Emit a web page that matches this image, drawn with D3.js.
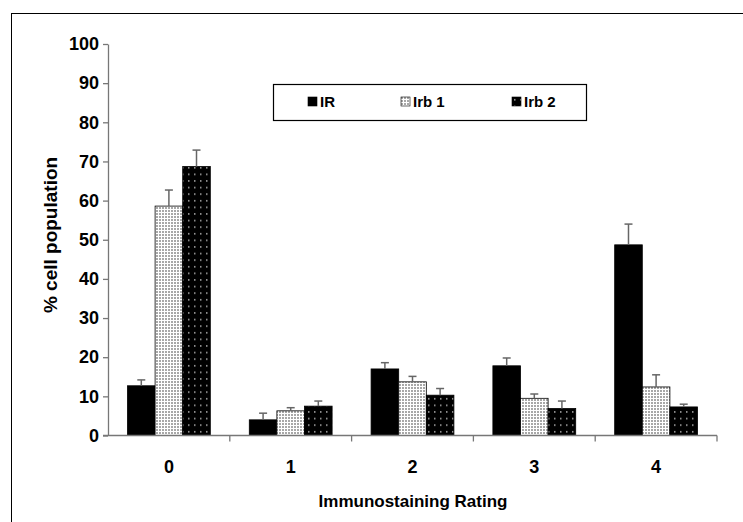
<!DOCTYPE html>
<html>
<head>
<meta charset="utf-8">
<script src="https://cdn.jsdelivr.net/npm/d3@7"></script>
<style>
  body { margin: 0; background: #fff; }
  svg { display: block; font-family: "Liberation Sans", Arial, sans-serif; font-weight: bold; }
</style>
</head>
<body>
<div id="chart"></div>
<script>
// data
const ratings = ['0', '1', '2', '3', '4'];
const seriesNames = ['IR', 'Irb 1', 'Irb 2'];
const irValues = [12.7, 4.0, 17.0, 17.8, 48.7];
const irErrors = [1.5, 1.7, 1.6, 2.0, 5.3];
const irb1Values = [58.6, 6.3, 13.7, 9.5, 12.4];
const irb1Errors = [4.1, 0.8, 1.4, 1.1, 3.1];
const irb2Values = [68.7, 7.5, 10.3, 6.9, 7.3];
const irb2Errors = [4.2, 1.3, 1.7, 1.9, 0.7];
const yTicks = [0, 10, 20, 30, 40, 50, 60, 70, 80, 90, 100];

const series = [
  {name: seriesNames[0], values: irValues, errors: irErrors, fill: '#000'},
  {name: seriesNames[1], values: irb1Values, errors: irb1Errors, fill: 'url(#dotsLight)'},
  {name: seriesNames[2], values: irb2Values, errors: irb2Errors, fill: 'url(#dotsDark)'}
];

const W = 743, H = 522;
const svg = d3.select('#chart').append('svg')
  .attr('width', W)
  .attr('height', H);

// fill patterns
const defs = svg.append('defs');
const pLight = defs.append('pattern')
  .attr('id', 'dotsLight')
  .attr('patternUnits', 'userSpaceOnUse')
  .attr('width', 3).attr('height', 3);
pLight.append('rect').attr('width', 3).attr('height', 3).attr('fill', '#fff');
pLight.append('rect').attr('width', 2).attr('height', 2).attr('fill', '#a8a8a8');

const pDark = defs.append('pattern')
  .attr('id', 'dotsDark')
  .attr('patternUnits', 'userSpaceOnUse')
  .attr('width', 6).attr('height', 6.6);
pDark.append('rect').attr('width', 6).attr('height', 6.6).attr('fill', '#000');
pDark.append('rect').attr('x', 2).attr('y', 2).attr('width', 1.5).attr('height', 1.5).attr('fill', '#aaa');

// outer frame (runs off the right and bottom of the picture)
svg.append('rect')
  .attr('x', 11.5).attr('y', 13.5)
  .attr('width', 800).attr('height', 600)
  .attr('fill', 'none')
  .attr('stroke', '#000')
  .attr('stroke-width', 1);

const plotLeft = 108, plotRight = 717, plotTop = 44, plotBottom = 435.5;

const x = d3.scaleBand()
  .domain(ratings)
  .range([plotLeft, plotRight])
  .paddingInner(0.32)
  .paddingOuter(0.16);

const x1 = d3.scaleBand()
  .domain(seriesNames)
  .range([0, x.bandwidth()]);

const y = d3.scaleLinear()
  .domain([0, 100])
  .range([plotBottom, plotTop]);

// y axis
const yAxis = svg.append('g')
  .attr('transform', `translate(${plotLeft},0)`)
  .call(d3.axisLeft(y).tickValues(yTicks).tickSize(5).tickSizeOuter(0).tickPadding(4));
yAxis.select('.domain').attr('stroke', '#777').attr('stroke-width', 1.3);
yAxis.selectAll('.tick line').attr('stroke', '#777').attr('stroke-width', 1.3);
yAxis.selectAll('.tick text')
  .attr('font-size', 18)
  .attr('font-weight', 'bold')
  .attr('font-family', '"Liberation Sans", Arial, sans-serif')
  .attr('fill', '#000');

// bars
const groups = svg.append('g').selectAll('g')
  .data(series)
  .join('g');

groups.selectAll('rect')
  .data(s => s.values.map((v, i) => ({s, v, e: s.errors[i], cat: ratings[i]})))
  .join('rect')
  .attr('x', d => x(d.cat) + x1(d.s.name))
  .attr('y', d => y(d.v))
  .attr('width', x1.bandwidth())
  .attr('height', d => y(0) - y(d.v))
  .attr('fill', d => d.s.fill)
  .attr('stroke', '#000')
  .attr('stroke-width', 0.8);

// error bars
const errs = svg.append('g').selectAll('g')
  .data(series.flatMap(s => s.values.map((v, i) => ({s, v, e: s.errors[i], cat: ratings[i]}))))
  .join('g')
  .attr('stroke', '#666')
  .attr('stroke-width', 1.5);
errs.append('line')
  .attr('x1', d => x(d.cat) + x1(d.s.name) + x1.bandwidth() / 2)
  .attr('x2', d => x(d.cat) + x1(d.s.name) + x1.bandwidth() / 2)
  .attr('y1', d => y(d.v))
  .attr('y2', d => y(d.v + d.e));
errs.append('line')
  .attr('x1', d => x(d.cat) + x1(d.s.name) + x1.bandwidth() / 2 - 4)
  .attr('x2', d => x(d.cat) + x1(d.s.name) + x1.bandwidth() / 2 + 4)
  .attr('y1', d => y(d.v + d.e))
  .attr('y2', d => y(d.v + d.e));

// x axis: baseline, boundary ticks, category labels
const xg = svg.append('g');
xg.append('line')
  .attr('x1', plotLeft - 5).attr('x2', plotRight)
  .attr('y1', plotBottom).attr('y2', plotBottom)
  .attr('stroke', '#777').attr('stroke-width', 1.3);
const bounds = ratings.map(c => x(c) - x.step() * x.paddingInner() / 2).concat([plotRight]);
xg.selectAll('line.b')
  .data(bounds.slice(1))
  .join('line')
  .attr('class', 'b')
  .attr('x1', d => d).attr('x2', d => d)
  .attr('y1', plotBottom).attr('y2', plotBottom + 6)
  .attr('stroke', '#777').attr('stroke-width', 1.3);
xg.selectAll('text')
  .data(ratings)
  .join('text')
  .attr('x', d => x(d) + x.bandwidth() / 2)
  .attr('y', 472.5)
  .attr('text-anchor', 'middle')
  .attr('font-size', 18)
  .text(d => d);

// axis titles
svg.append('text')
  .attr('x', 413)
  .attr('y', 507)
  .attr('text-anchor', 'middle')
  .attr('font-size', 17)
  .text('Immunostaining Rating');

svg.append('text')
  .attr('transform', 'translate(57,235) rotate(-90)')
  .attr('text-anchor', 'middle')
  .attr('font-size', 19)
  .text('% cell population');

// legend
const legend = svg.append('g');
legend.append('rect')
  .attr('x', 273.5).attr('y', 84.5)
  .attr('width', 313).attr('height', 36)
  .attr('fill', '#fff')
  .attr('stroke', '#000')
  .attr('stroke-width', 1.2);
const legX = [308, 401, 512];
const items = legend.selectAll('g.item')
  .data(series)
  .join('g')
  .attr('class', 'item')
  .attr('transform', (d, i) => `translate(${legX[i]},97)`);
items.append('rect')
  .attr('width', 9).attr('height', 9)
  .attr('fill', d => d.fill)
  .attr('stroke', '#000')
  .attr('stroke-width', 0.6);
items.append('text')
  .attr('x', 12)
  .attr('y', 9.7)
  .attr('font-size', 15)
  .text(d => d.name);
</script>
</body>
</html>
